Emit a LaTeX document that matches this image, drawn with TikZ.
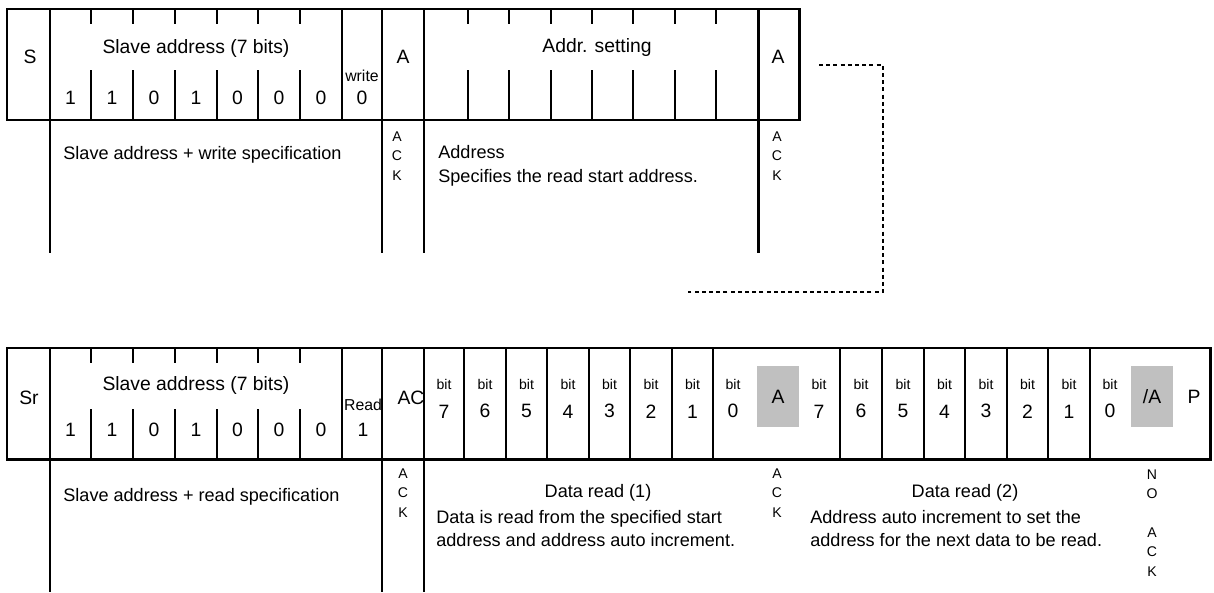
\documentclass[tikz,border=0pt]{standalone}
\usepackage{fontspec}
\setmainfont{Liberation Sans}
\usepackage{tikz}
\usetikzlibrary{positioning}
\definecolor{ackgrey}{RGB}{192,192,192}
\newcommand{\bitfont}{\fontsize{8}{9}\selectfont}

\begin{document}
\begin{tikzpicture}[
    x=0.02cm, y=-0.02cm,
    frame/.style={line width=1.7pt},
    divider/.style={line width=1.15pt},
    link/.style={line width=1.1pt, dash pattern=on 2.3pt off 1.8pt},
    field/.style={font=\fontsize{11}{13}\selectfont, inner sep=0pt},
    rwbit/.style={font=\fontsize{9}{11}\selectfont, inner sep=0pt},
    bitcell/.style={font=\fontsize{11}{16.5}\selectfont, align=center, inner sep=0pt},
    ackv/.style={font=\fontsize{8}{11}\selectfont, align=center, inner sep=0pt},
    note/.style={font=\fontsize{10.3}{13.4}\selectfont, align=left, anchor=west, inner sep=0pt},
    ackbox/.style={fill=ackgrey, font=\fontsize{11}{13}\selectfont, inner sep=0pt, minimum width=0.84cm, minimum height=1.22cm}
]
    \useasboundingbox (0,0) rectangle (1214,592);

    % write frame
    \draw[frame] (7,9) rectangle (799,120);
    \draw[frame] (50,9) -- (50,253);
    \draw[frame] (342,9) -- (342,120);
    \draw[frame] (382,9) -- (382,253);
    \draw[frame] (424,9) -- (424,253);
    \draw[frame] (758,9) -- (758,253);
    \draw[frame] (592,9) -- (592,24) (592,70) -- (592,120);
    \draw[divider] (91,9) -- (91,24) (91,70) -- (91,120);
    \draw[divider] (133,9) -- (133,24) (133,70) -- (133,120);
    \draw[divider] (175,9) -- (175,24) (175,70) -- (175,120);
    \draw[divider] (217,9) -- (217,24) (217,70) -- (217,120);
    \draw[divider] (258,9) -- (258,24) (258,70) -- (258,120);
    \draw[divider] (300,9) -- (300,24) (300,70) -- (300,120);
    \draw[divider] (468,9) -- (468,24) (468,70) -- (468,120);
    \draw[divider] (509,9) -- (509,24) (509,70) -- (509,120);
    \draw[divider] (551,9) -- (551,24) (551,70) -- (551,120);
    \draw[divider] (633,9) -- (633,24) (633,70) -- (633,120);
    \draw[divider] (675,9) -- (675,24) (675,70) -- (675,120);
    \draw[divider] (716,9) -- (716,24) (716,70) -- (716,120);

    \node[field] (start) at (30,57) {S};
    \node[field] (wslave) at (196,48) {Slave address (7 bits)};
    \node[field] (wa6) at (70.5,98) {1};
    \node[field] (wa5) at (112,98) {1};
    \node[field] (wa4) at (154,98) {0};
    \node[field] (wa3) at (196,98) {1};
    \node[field] (wa2) at (237.5,98) {0};
    \node[field] (wa1) at (279,98) {0};
    \node[field] (wa0) at (321,98) {0};
    \node[rwbit] (wlabel) at (362,76) {write};
    \node[field] (wbit) at (362,98) {0};
    \node[field] (wack1) at (403,57) {A};
    \node[field] (addrset) at (597,48) {Addr. setting};
    \node[field] (wack2) at (778,57) {A};

    \node[note] (wspec) at (63,155) {Slave address + write specification};
    \node[ackv] (wackt1) at (397,156) {A\\C\\K};
    \node[note] (addrnote) at (438,166) {Address\\Specifies the read start address.};
    \node[ackv] (wackt2) at (777,156) {A\\C\\K};

    \coordinate (linkstart) at (819,65);
    \coordinate (linkend) at (688,292);
    \draw[link] (linkstart) -- ++(64,0) |- (linkend);

    % read frame
    \draw[frame] (7,348) rectangle (1210,459);
    \draw[frame] (50,348) -- (50,592);
    \draw[frame] (342,348) -- (342,459);
    \draw[frame] (382,348) -- (382,592);
    \draw[frame] (424,348) -- (424,592);
    \draw[divider] (91,348) -- (91,363) (91,409) -- (91,459);
    \draw[divider] (133,348) -- (133,363) (133,409) -- (133,459);
    \draw[divider] (175,348) -- (175,363) (175,409) -- (175,459);
    \draw[divider] (217,348) -- (217,363) (217,409) -- (217,459);
    \draw[divider] (258,348) -- (258,363) (258,409) -- (258,459);
    \draw[divider] (300,348) -- (300,363) (300,409) -- (300,459);
    \draw[divider] (464,348) -- (464,459);
    \draw[divider] (506,348) -- (506,459);
    \draw[divider] (547,348) -- (547,459);
    \draw[divider] (589,348) -- (589,459);
    \draw[divider] (630,348) -- (630,459);
    \draw[divider] (672,348) -- (672,459);
    \draw[divider] (713,348) -- (713,459);
    \draw[divider] (840,348) -- (840,459);
    \draw[divider] (882,348) -- (882,459);
    \draw[divider] (924,348) -- (924,459);
    \draw[divider] (965,348) -- (965,459);
    \draw[divider] (1007,348) -- (1007,459);
    \draw[divider] (1048,348) -- (1048,459);
    \draw[divider] (1090,348) -- (1090,459);

    \node[field] (restart) at (29,398) {Sr};
    \node[field] (rslave) at (196,385) {Slave address (7 bits)};
    \node[field] (ra6) at (70.5,430) {1};
    \node[field] (ra5) at (112,430) {1};
    \node[field] (ra4) at (154,430) {0};
    \node[field] (ra3) at (196,430) {1};
    \node[field] (ra2) at (237.5,430) {0};
    \node[field] (ra1) at (279,430) {0};
    \node[field] (ra0) at (321,430) {0};
    \node[rwbit] (rlabel) at (363,405) {Read};
    \node[field] (rbit) at (363,430) {1};
    \node[field] (rack0) at (411,398) {AC};

    \node[bitcell] (da7) at (444,398.5) {{\bitfont bit}\\7};
    \node[bitcell] (da6) at (485,398.5) {{\bitfont bit}\\6};
    \node[bitcell] (da5) at (526.5,398.5) {{\bitfont bit}\\5};
    \node[bitcell] (da4) at (568,398.5) {{\bitfont bit}\\4};
    \node[bitcell] (da3) at (609.5,398.5) {{\bitfont bit}\\3};
    \node[bitcell] (da2) at (651,398.5) {{\bitfont bit}\\2};
    \node[bitcell] (da1) at (692.5,398.5) {{\bitfont bit}\\1};
    \node[bitcell] (da0) at (733,398.5) {{\bitfont bit}\\0};
    \node[ackbox] (rack1) at (778,396.5) {A};
    \node[bitcell] (db7) at (819,398.5) {{\bitfont bit}\\7};
    \node[bitcell] (db6) at (861,398.5) {{\bitfont bit}\\6};
    \node[bitcell] (db5) at (903,398.5) {{\bitfont bit}\\5};
    \node[bitcell] (db4) at (944.5,398.5) {{\bitfont bit}\\4};
    \node[bitcell] (db3) at (986,398.5) {{\bitfont bit}\\3};
    \node[bitcell] (db2) at (1027.5,398.5) {{\bitfont bit}\\2};
    \node[bitcell] (db1) at (1069,398.5) {{\bitfont bit}\\1};
    \node[bitcell] (db0) at (1110,398.5) {{\bitfont bit}\\0};
    \node[ackbox] (rnack) at (1152,396.5) {/A};
    \node[field] (stop) at (1194,397) {P};

    \node[note] (rspec) at (63,497) {Slave address + read specification};
    \node[ackv] (rackt0) at (403,493) {A\\C\\K};
    \node[field, font=\fontsize{10.3}{13.4}\selectfont] (read1) at (598,493) {Data read (1)};
    \node[note] (read1note) at (436,528.5) {Data is read from the specified start\\address and address auto increment.};
    \node[ackv] (rackt1) at (777,493) {A\\C\\K};
    \node[field, font=\fontsize{10.3}{13.4}\selectfont] (read2) at (965,493) {Data read (2)};
    \node[note] (read2note) at (810,528.5) {Address auto increment to set the\\address for the next data to be read.};
    \node[ackv] (rnackt) at (1152,523) {N\\O\\\mbox{}\\A\\C\\K};
\end{tikzpicture}
\end{document}
